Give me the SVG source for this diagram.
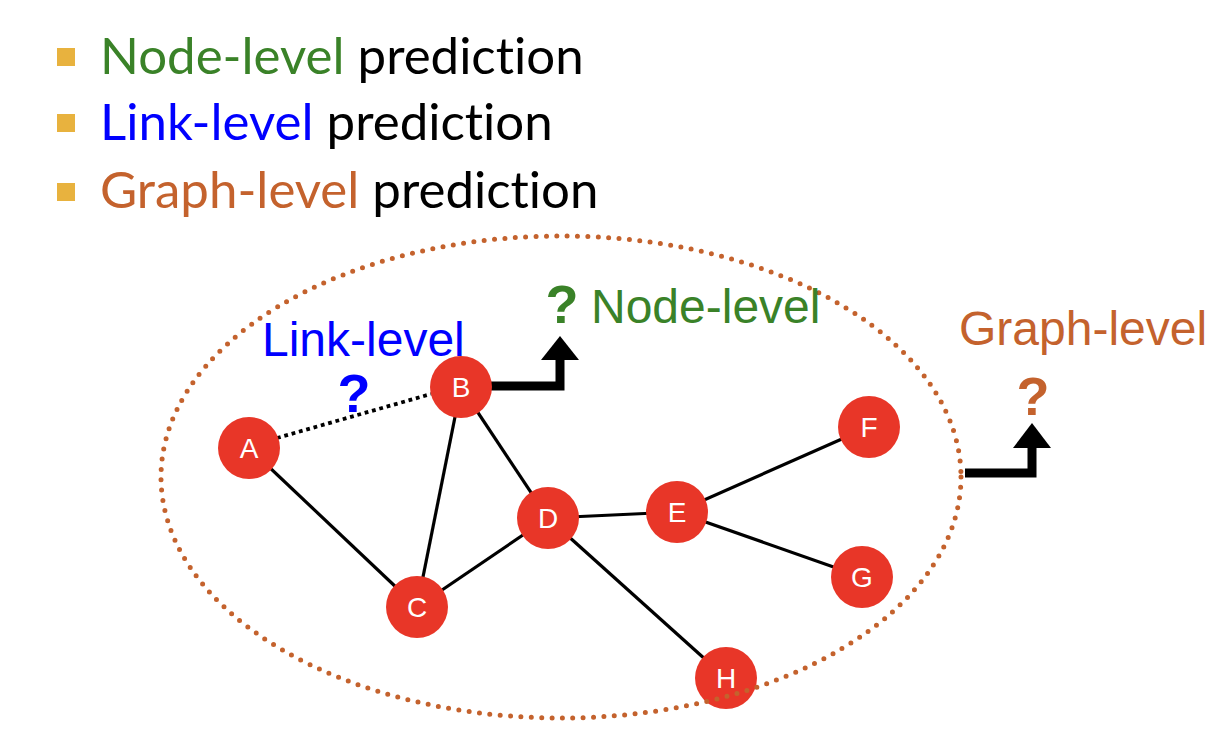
<svg xmlns="http://www.w3.org/2000/svg" width="1222" height="746" viewBox="0 0 1222 746">
<style>
.bul{font-family:Lato,"Liberation Sans",sans-serif;font-size:51px;font-variant-ligatures:none}
.lbl{font-family:"Liberation Sans",Arial,sans-serif;font-size:48px}
.q{font-family:"Liberation Sans",Arial,sans-serif;font-size:54px;font-weight:bold}
.nd circle{fill:#E83628}
.nd text{font-family:"Liberation Sans",Arial,sans-serif;font-size:28px;fill:#fff;text-anchor:middle}
.edge{stroke:#000;stroke-width:3.2;fill:none}
.arr{stroke:#000;stroke-width:9;fill:none}
</style>
<rect width="1222" height="746" fill="#fff"/>
<g id="bullets">
<rect x="57" y="48" width="18" height="18" fill="#E8B23E"/>
<rect x="57" y="114" width="18" height="18" fill="#E8B23E"/>
<rect x="57" y="183" width="18" height="18" fill="#E8B23E"/>
<text class="bul" x="100" y="74"><tspan fill="#3A8228">Node-level</tspan><tspan fill="#000"> prediction</tspan></text>
<text class="bul" x="100" y="140"><tspan fill="#0000FF">Link-level</tspan><tspan fill="#000"> prediction</tspan></text>
<text class="bul" x="100" y="208"><tspan fill="#C4622D">Graph-level</tspan><tspan fill="#000"> prediction</tspan></text>
</g>
<g id="connectors">
<line class="edge" x1="249" y1="448" x2="417" y2="607"/>
<line class="edge" x1="461" y1="387" x2="417" y2="607"/>
<line class="edge" x1="461" y1="387" x2="548" y2="518"/>
<line class="edge" x1="417" y1="607" x2="548" y2="518"/>
<line class="edge" x1="548" y1="518" x2="677" y2="512"/>
<line class="edge" x1="548" y1="518" x2="726" y2="678"/>
<line class="edge" x1="677" y1="512" x2="869" y2="427"/>
<line class="edge" x1="677" y1="512" x2="862" y2="577"/>
<line x1="277" y1="438" x2="431" y2="394" stroke="#000" stroke-width="3.8" stroke-dasharray="3.8 3.8"/>
<polyline class="arr" points="491,386 560,386 560,356"/>
<polygon points="541,360 579,360 560,336" fill="#000"/>
<polyline class="arr" points="965,473 1032,473 1032,444"/>
<polygon points="1013,448 1051,448 1032,423" fill="#000"/>
</g>
<g id="node-A" class="nd"><circle cx="249" cy="448" r="31"/><text x="249" y="458">A</text></g>
<g id="node-B" class="nd"><circle cx="461" cy="387" r="31"/><text x="461" y="397">B</text></g>
<g id="node-C" class="nd"><circle cx="417" cy="607" r="31"/><text x="417" y="617">C</text></g>
<g id="node-D" class="nd"><circle cx="548" cy="518" r="31"/><text x="548" y="528">D</text></g>
<g id="node-E" class="nd"><circle cx="677" cy="512" r="31"/><text x="677" y="522">E</text></g>
<g id="node-F" class="nd"><circle cx="869" cy="427" r="31"/><text x="869" y="437">F</text></g>
<g id="node-G" class="nd"><circle cx="862" cy="577" r="31"/><text x="862" y="587">G</text></g>
<g id="node-H" class="nd"><circle cx="726" cy="678" r="31"/><text x="726" y="688">H</text></g>
<g id="graph-boundary">
<ellipse cx="561" cy="477" rx="400" ry="241" fill="none" stroke="#C4622D" stroke-width="5" stroke-linecap="round" stroke-dasharray="0 10.4"/>
</g>
<g id="labels">
<text class="lbl" x="262" y="356" fill="#0000FF">Link-level</text>
<text class="q" x="354" y="412" fill="#0000FF" text-anchor="middle">?</text>
<text class="q" x="562" y="323" fill="#3A8228" text-anchor="middle">?</text>
<text class="lbl" x="591" y="323" fill="#3A8228">Node-level</text>
<text class="lbl" x="959" y="345" fill="#C4622D">Graph-level</text>
<text class="q" x="1033" y="415" fill="#C4622D" text-anchor="middle">?</text>
</g>
</svg>
